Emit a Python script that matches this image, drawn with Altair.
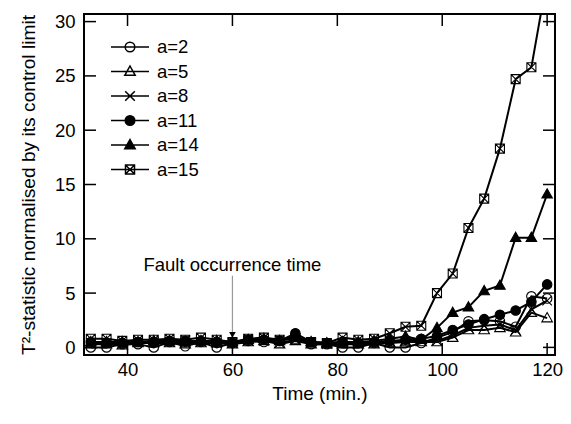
import altair as alt
import pandas as pd

# ---------------- data ----------------
times = [33, 36, 39, 42, 45, 48, 51, 54, 57, 60, 63, 66, 69, 72, 75,
         78, 81, 84, 87, 90, 93, 96, 99, 102, 105, 108, 111, 114, 117, 120]

series_names = ["a=2", "a=5", "a=8", "a=11", "a=14", "a=15"]

a2 = [0.0, 0.0, 0.3, 0.3, 0.0, 0.5, 0.1, 0.5, 0.0, 0.4, 0.6, 0.5, 0.6, 1.1, 0.3,
      0.3, 0.0, 0.0, 0.4, 0.0, 0.0, 0.4, 0.9, 1.4, 2.4, 2.5, 2.4, 1.9, 4.7, 4.5]
a5 = [0.3, 0.3, 0.2, 0.4, 0.4, 0.4, 0.3, 0.4, 0.4, 0.3, 0.5, 0.6, 0.3, 0.6, 0.3,
      0.3, 0.3, 0.3, 0.3, 0.4, 0.5, 0.5, 0.5, 0.9, 1.6, 1.6, 1.8, 1.4, 3.2, 2.7]
a8 = [0.4, 0.4, 0.3, 0.5, 0.5, 0.5, 0.4, 0.5, 0.4, 0.4, 0.6, 0.6, 0.4, 0.7, 0.4,
      0.3, 0.4, 0.3, 0.4, 0.5, 0.6, 0.6, 0.6, 1.1, 1.8, 2.0, 2.1, 1.6, 3.5, 4.3]
a11 = [0.5, 0.4, 0.4, 0.5, 0.5, 0.6, 0.6, 0.6, 0.5, 0.4, 0.7, 0.7, 0.6, 1.3, 0.5,
       0.4, 0.5, 0.4, 0.5, 0.6, 0.7, 0.8, 1.05, 1.6, 2.1, 2.6, 3.0, 3.4, 4.2, 5.8]
a14 = [0.5, 0.5, 0.5, 0.5, 0.6, 0.6, 0.5, 0.6, 0.6, 0.5, 0.7, 0.8, 0.6, 0.9, 0.5,
       0.4, 0.5, 0.5, 0.6, 0.8, 1.0, 0.7, 1.8, 3.2, 3.7, 5.2, 5.7, 10.1, 10.1, 14.1]
a15 = [0.8, 0.8, 0.6, 0.7, 0.7, 0.8, 0.7, 0.9, 0.7, 0.5, 0.8, 0.9, 0.7, 0.8, 0.5,
       0.4, 0.9, 0.7, 0.8, 1.3, 1.9, 2.0, 5.0, 6.8, 11.0, 13.7, 18.3, 24.7, 25.8, 34.0]

x_tick_values = [40, 60, 80, 100, 120]
y_tick_values = [0, 5, 10, 15, 20, 25, 30]

fault_time = [60]
fault_label = ["Fault occurrence time"]
fault_text_y = [7.6]
fault_arrow_top = [6.6]
fault_arrow_bottom = [1.35]
fault_arrow_head = [1.15]

# ---------------- styles ----------------
FONT = "Liberation Sans"
FS = 18.5
W, H = 471, 341
TICK = 12
X_DOMAIN = [31.7, 121.5]
Y_DOMAIN = [-0.7, 30.7]

plot_paths = [
    "M0.95,0A0.95,0.95,0,1,1,-0.95,0A0.95,0.95,0,1,1,0.95,0Z",
    "M0,-1.1L1.05,0.75L-1.05,0.75Z",
    "M-0.95,-0.95L0.95,0.95M0.95,-0.95L-0.95,0.95",
    "M0.95,0A0.95,0.95,0,1,1,-0.95,0A0.95,0.95,0,1,1,0.95,0Z",
    "M0,-1.1L1.05,0.75L-1.05,0.75Z",
    "M-0.9,-0.9L0.9,-0.9L0.9,0.9L-0.9,0.9ZM-0.9,-0.9L0.9,0.9M0.9,-0.9L-0.9,0.9",
]
legend_paths = [
    "M-1.9,0L1.9,0M0.48,0A0.48,0.48,0,1,1,-0.48,0A0.48,0.48,0,1,1,0.48,0Z",
    "M-1.9,0L1.9,0M0,-0.55L0.52,0.38L-0.52,0.38Z",
    "M-1.9,0L1.9,0M-0.48,-0.48L0.48,0.48M0.48,-0.48L-0.48,0.48",
    "M-1.9,0L1.9,0M0.48,0A0.48,0.48,0,1,1,-0.48,0A0.48,0.48,0,1,1,0.48,0Z",
    "M-1.9,0L1.9,0M0,-0.55L0.52,0.38L-0.52,0.38Z",
    "M-1.9,0L1.9,0M-0.45,-0.45L0.45,-0.45L0.45,0.45L-0.45,0.45ZM-0.45,-0.45L0.45,0.45M0.45,-0.45L-0.45,0.45",
]
fills = ["transparent", "transparent", "transparent", "black", "black", "transparent"]
strokes = ["black"] * 6

# ---------------- frames ----------------
rows = []
for name, vals in zip(series_names, [a2, a5, a8, a11, a14, a15]):
    for t, v in zip(times, vals):
        rows.append({"t": t, "v": v, "series": name})
df = pd.DataFrame(rows)

yt = pd.DataFrame({"v": y_tick_values})
xt = pd.DataFrame({"t": x_tick_values})
fault = pd.DataFrame({"t": fault_time, "label": fault_label, "ty": fault_text_y,
                      "top": fault_arrow_top, "bot": fault_arrow_bottom,
                      "head": fault_arrow_head})

xs = alt.Scale(domain=X_DOMAIN, nice=False, zero=False)
ys = alt.Scale(domain=Y_DOMAIN, nice=False, zero=False)

x_enc = alt.X("t:Q", scale=xs,
              axis=alt.Axis(values=x_tick_values, title="Time (min.)",
                            labelPadding=5, titlePadding=6, titleFontSize=19))
y_enc = alt.Y("v:Q", scale=ys,
              axis=alt.Axis(values=y_tick_values,
                            title="T\u00b2-statistic normalised by its control limit",
                            labelPadding=9, titlePadding=16, titleFontSize=19.2))

lines = alt.Chart(df).mark_line(color="black", strokeWidth=2, clip=True).encode(
    x=x_enc, y=y_enc, detail="series:N")

points = alt.Chart(df).mark_point(filled=False, opacity=1, stroke="black",
                                  strokeWidth=1.1, size=100, clip=True).encode(
    x=alt.X("t:Q", scale=xs),
    y=alt.Y("v:Q", scale=ys),
    shape=alt.Shape("series:N", scale=alt.Scale(domain=series_names, range=plot_paths),
                    legend=None),
    fill=alt.Fill("series:N", scale=alt.Scale(domain=series_names, range=fills),
                  legend=None),
)


def leg():
    return alt.Legend(title=None, orient="none", legendX=35, legendY=22,
                      symbolSize=400, symbolStrokeColor="black",
                      symbolStrokeWidth=1.5, labelFont=FONT,
                      labelFontSize=FS, labelColor="black",
                      labelOffset=16, rowPadding=3.5, padding=0)


legend_layer = alt.Chart(df).transform_filter("false").mark_point(
    filled=False, opacity=1, strokeWidth=1.5, size=400).encode(
    shape=alt.Shape("series:N", scale=alt.Scale(domain=series_names, range=legend_paths),
                    legend=leg()),
    fill=alt.Fill("series:N", scale=alt.Scale(domain=series_names, range=fills),
                  legend=leg()),
    stroke=alt.Stroke("series:N", scale=alt.Scale(domain=series_names, range=strokes),
                      legend=leg()),
)

tick_style = dict(color="black", strokeWidth=1.5)
y_left = alt.Chart(yt).mark_rule(**tick_style).encode(
    y=alt.Y("v:Q", scale=ys), x=alt.value(0), x2=alt.value(TICK))
y_right = alt.Chart(yt).mark_rule(**tick_style).encode(
    y=alt.Y("v:Q", scale=ys), x=alt.value(W - TICK), x2=alt.value(W))
x_bottom = alt.Chart(xt).mark_rule(**tick_style).encode(
    x=alt.X("t:Q", scale=xs), y=alt.value(H - TICK), y2=alt.value(H))
x_top = alt.Chart(xt).mark_rule(**tick_style).encode(
    x=alt.X("t:Q", scale=xs), y=alt.value(0), y2=alt.value(TICK))

fault_text = alt.Chart(fault).mark_text(font=FONT, fontSize=FS, color="black",
                                        baseline="middle", align="center").encode(
    x=alt.X("t:Q", scale=xs), y=alt.Y("ty:Q", scale=ys), text="label:N")
fault_rule = alt.Chart(fault).mark_rule(color="#999999", strokeWidth=1.2).encode(
    x=alt.X("t:Q", scale=xs), y=alt.Y("top:Q", scale=ys), y2="bot:Q")
fault_head = alt.Chart(fault).mark_point(shape="triangle-down", filled=True,
                                         color="black", opacity=1, size=45).encode(
    x=alt.X("t:Q", scale=xs), y=alt.Y("head:Q", scale=ys))

chart = alt.layer(
    lines, points, legend_layer, y_left, y_right, x_bottom, x_top,
    fault_rule, fault_head, fault_text,
).resolve_scale(shape="independent", fill="independent", stroke="independent").properties(
    width=W, height=H,
    autosize=alt.AutoSizeParams(type="none"),
    padding={"left": 76, "top": 6, "right": 8, "bottom": 55},
).configure_view(stroke="black", strokeWidth=2).configure_axis(
    ticks=False, domain=False, grid=False,
    labelFont=FONT, labelFontSize=FS, labelColor="black",
    titleFont=FONT, titleFontSize=FS, titleColor="black", titleFontWeight="normal",
)

chart.save("out.html", embed_options={"renderer": "svg", "actions": False})
